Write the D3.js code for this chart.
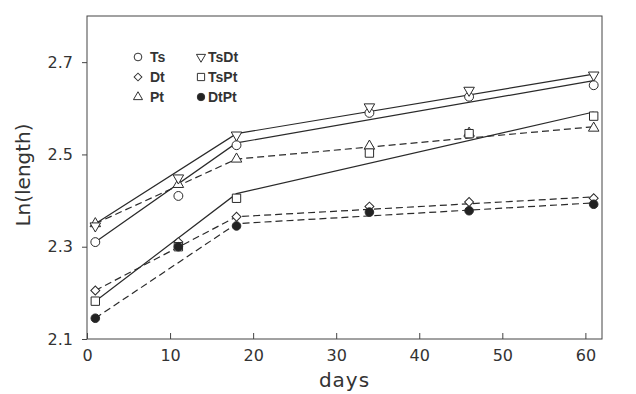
<!DOCTYPE html>
<html>
<head>
<meta charset="utf-8">
<script src="https://cdn.jsdelivr.net/npm/d3@7"></script>
<style>
  body { margin: 0; background: #fff; }
  svg { display: block; }
</style>
</head>
<body>
<div class="canvas"></div>
<script>
// measured days
const days = [1, 11, 18, 34, 46, 61];
// fitted broken-line knots
const fitDays = [1, 18, 61];

const seriesNames = ["Ts", "Dt", "Pt", "TsDt", "TsPt", "DtPt"];

// Ln(length) per series
const ts   = [2.31, 2.41, 2.52, 2.59, 2.625, 2.65];
const dt   = [2.205, 2.31, 2.365, 2.387, 2.397, 2.405];
const pt   = [2.35, 2.435, 2.49, 2.518, 2.546, 2.557];
const tsdt = [2.345, 2.449, 2.542, 2.603, 2.639, 2.672];
const tspt = [2.182, 2.30, 2.405, 2.503, 2.545, 2.583];
const dtpt = [2.145, 2.30, 2.345, 2.375, 2.378, 2.392];

// fitted lines (value at day 1, 18, 61)
const tsFit   = [2.31, 2.525, 2.66];
const dtFit   = [2.205, 2.365, 2.408];
const ptFit   = [2.35, 2.49, 2.56];
const tsdtFit = [2.35, 2.545, 2.674];
const tsptFit = [2.182, 2.415, 2.592];
const dtptFit = [2.145, 2.35, 2.395];

const xTicks = [0, 10, 20, 30, 40, 50, 60];
const yTicks = [2.1, 2.3, 2.5, 2.7];

const svgWidth = 636, svgHeight = 394;
const margine = { top: 16, right: 34, buttom: 55, left: 87 };

const svg = d3.select('.canvas').append('svg')
  .attr("width", svgWidth)
  .attr("height", svgHeight);

svg.append('rect')
  .attr("width", svgWidth)
  .attr("height", svgHeight)
  .attr("fill", "#fff");

const xScale = d3.scaleLinear()
  .domain([0, 62])
  .range([margine.left, svgWidth - margine.right]);

const yScale = d3.scaleLinear()
  .domain([2.1, 2.8])
  .range([svgHeight - margine.buttom, margine.top]);

// frame
svg.append('rect')
  .attr("x", xScale(0))
  .attr("y", yScale(2.8))
  .attr("width", xScale(62) - xScale(0))
  .attr("height", yScale(2.1) - yScale(2.8))
  .attr("fill", "none")
  .attr("stroke", "#444")
  .attr("stroke-width", 1);

// x axis: ticks point inward
const xAxis = d3.axisBottom(xScale).tickValues(xTicks).tickSize(-6).tickPadding(11)
  .tickFormat(d3.format("d"));
const xAxisGroup = svg.append('g')
  .attr("transform", `translate(0 ${yScale(2.1)})`)
  .call(xAxis);
xAxisGroup.select('.domain').remove();
xAxisGroup.selectAll('line').attr("stroke", "#444");
xAxisGroup.selectAll('text')
  .style("font-family", "DejaVu Sans")
  .style("font-size", "16px")
  .attr("fill", "#333");

// y axis: ticks point outward
const yAxis = d3.axisLeft(yScale).tickValues(yTicks).tickSize(5).tickPadding(9)
  .tickFormat(d3.format(".1f"));
const yAxisGroup = svg.append('g')
  .attr("transform", `translate(${xScale(0)} 0)`)
  .call(yAxis);
yAxisGroup.select('.domain').remove();
yAxisGroup.selectAll('line').attr("stroke", "#444");
yAxisGroup.selectAll('text')
  .style("font-family", "DejaVu Sans")
  .style("font-size", "16px")
  .attr("fill", "#333");

// axis titles
svg.append('text')
  .attr("x", (xScale(0) + xScale(62)) / 2)
  .attr("y", 387)
  .attr("text-anchor", "middle")
  .style("font-family", "DejaVu Sans")
  .style("font-size", "20px")
  .style("letter-spacing", "1px")
  .attr("fill", "#333")
  .text("days");

svg.append('text')
  .attr("transform", "translate(30 175) rotate(-90)")
  .attr("text-anchor", "middle")
  .style("font-family", "DejaVu Sans")
  .style("font-size", "20px")
  .attr("fill", "#333")
  .text("Ln(length)");

// series definitions (diamond = square turned 45 degrees)
const series = [
  { name: "Ts",   vals: ts,   fit: tsFit,   dash: null,  shape: d3.symbolCircle,   rot: 0,   fill: "#fff", size: 62 },
  { name: "Dt",   vals: dt,   fit: dtFit,   dash: "7,4", shape: d3.symbolSquare,   rot: 45,  fill: "#fff", size: 40 },
  { name: "Pt",   vals: pt,   fit: ptFit,   dash: "7,4", shape: d3.symbolTriangle, rot: 0,   fill: "#fff", size: 48 },
  { name: "TsDt", vals: tsdt, fit: tsdtFit, dash: null,  shape: d3.symbolTriangle, rot: 180, fill: "#fff", size: 48 },
  { name: "TsPt", vals: tspt, fit: tsptFit, dash: null,  shape: d3.symbolSquare,   rot: 0,   fill: "#fff", size: 70 },
  { name: "DtPt", vals: dtpt, fit: dtptFit, dash: "7,4", shape: d3.symbolCircle,   rot: 0,   fill: "#222", size: 58 }
];

const line = d3.line()
  .x(d => xScale(d[0]))
  .y(d => yScale(d[1]));

const lineGroup = svg.append('g');
lineGroup.selectAll('path')
  .data(series)
  .enter().append('path')
  .attr("d", s => line(fitDays.map((d, i) => [d, s.fit[i]])))
  .attr("fill", "none")
  .attr("stroke", "#2a2a2a")
  .attr("stroke-width", 1.2)
  .attr("stroke-dasharray", s => s.dash);

const markGroup = svg.append('g');
series.forEach(s => {
  markGroup.selectAll(null)
    .data(days.map((d, i) => [d, s.vals[i]]))
    .enter().append('path')
    .attr("d", d3.symbol().type(s.shape).size(s.size))
    .attr("transform", d => `translate(${xScale(d[0])} ${yScale(d[1])}) rotate(${s.rot})`)
    .attr("fill", s.fill)
    .attr("stroke", "#2a2a2a")
    .attr("stroke-width", 1);
});

// legend
const legendGroup = svg.append('g');
const legendItems = legendGroup.selectAll('g')
  .data(series)
  .enter().append('g')
  .attr("transform", (d, i) => {
    const col = Math.floor(i / 3), row = i % 3;
    return `translate(${col ? 201 : 138} ${57 + row * 20})`;
  });

legendItems.append('path')
  .attr("d", s => d3.symbol().type(s.shape).size(s.size * 0.75)())
  .attr("transform", s => `rotate(${s.rot})`)
  .attr("fill", s => s.fill)
  .attr("stroke", "#333")
  .attr("stroke-width", 1);

legendItems.append('text')
  .attr("x", (d, i) => i < 3 ? 12 : 7)
  .attr("dy", "0.36em")
  .style("font-family", "Liberation Sans")
  .style("font-size", "14px")
  .style("font-weight", "bold")
  .attr("fill", "#333")
  .text(s => s.name);
</script>
</body>
</html>
